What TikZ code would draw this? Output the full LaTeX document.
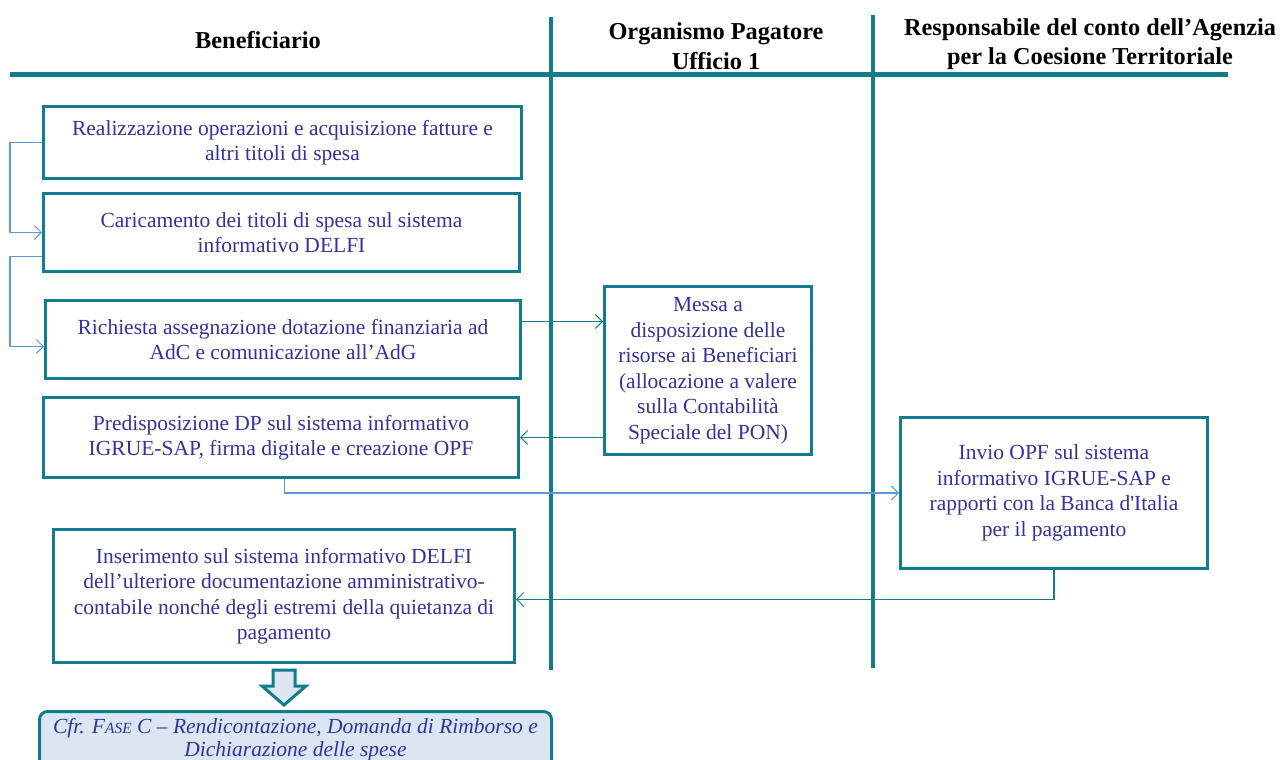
\documentclass[tikz,border=0pt]{standalone}
\usepackage{fontspec}
\setmainfont{Liberation Serif}
\usetikzlibrary{arrows.meta,calc}
\definecolor{teal}{RGB}{16,124,140}
\definecolor{lblue}{RGB}{91,155,213}
\definecolor{txtblue}{RGB}{51,51,153}
\definecolor{boxfill}{RGB}{220,230,242}
\begin{document}
\begin{tikzpicture}[x=1pt,y=-1pt,
  box/.style={draw=teal, line width=3pt, fill=white, text=txtblue, align=center, inner sep=0pt, anchor=north west,
    font=\fontsize{21.5}{25.5}\selectfont},
  head/.style={align=center, font=\fontsize{24.3}{29.5}\selectfont\bfseries, text=black},
  lane/.style={draw=teal, line width=4pt},
  conn/.style={draw=teal, line width=1.2pt, -{Straight Barb[length=7pt,width=14pt,line width=1pt]}},
  lconn/.style={draw=lblue, line width=1.2pt, -{Straight Barb[length=7pt,width=14pt,line width=1pt]}}]
\useasboundingbox[fill=white] (0,0) rectangle (1283,760);
% lanes
\draw[lane, line width=5pt] (10,75) -- (1228,75);
\draw[lane] (551,17) -- (551,670);
\draw[lane] (873,15) -- (873,668);
% headers
\node[head] (h1) at (258,40) {Beneficiario};
\node[head] (h2) at (716,46) {Organismo Pagatore\\Ufficio 1};
\node[head] (h3) at (1090,44) {Responsabile del conto dell’Agenzia\\per la Coesione Territoriale};
% boxes
\node[box, minimum width=478, minimum height=72] (b1) at (42,105) {Realizzazione operazioni e acquisizione fatture e\\altri titoli di spesa};
\node[box, minimum width=476, minimum height=78] (b2) at (42,192) {Caricamento dei titoli di spesa sul sistema\\informativo DELFI};
\node[box, minimum width=475, minimum height=78] (b3) at (44,299) {Richiesta assegnazione dotazione finanziaria ad\\AdC e comunicazione all’AdG};
\node[box, minimum width=475, minimum height=80] (b4) at (42,396) {Predisposizione DP sul sistema informativo\\IGRUE-SAP, firma digitale e creazione OPF};
\node[box, minimum width=207, minimum height=168] (b5) at (603,285) {Messa a\\disposizione delle\\risorse ai Beneficiari\\(allocazione a valere\\sulla Contabilità\\Speciale del PON)};
\node[box, minimum width=307, minimum height=151] (b6) at (899,416) {Invio OPF sul sistema\\informativo IGRUE-SAP e\\rapporti con la Banca d\textquotesingle Italia\\per il pagamento};
\node[box, minimum width=461, minimum height=133] (b7) at (52,528) {Inserimento sul sistema informativo DELFI\\dell’ulteriore documentazione amministrativo-\\contabile nonché degli estremi della quietanza di\\pagamento};
\node[box, fill=boxfill, rounded corners=8pt, minimum width=512, minimum height=56, font=\fontsize{21.5}{23}\selectfont\itshape] (b8) at (38,710) {Cfr. F{\fontsize{15.5}{15}\selectfont ASE} C – Rendicontazione, Domanda di Rimborso e\\Dichiarazione delle spese};
% block arrow
\draw[teal, line width=3pt, fill=boxfill, line join=miter] (273,670) -- (295,670) -- (295,686) -- (306,686) -- (284,705) -- (262,686) -- (273,686) -- cycle;
% connectors
\draw[lconn] (b1.west) -- ++(-32,0) |- (b2.west);
\draw[lconn] ([yshift=-24pt]b2.west) -- ++(-32,0) |- ([yshift=-7pt]b3.west);
\draw[conn] ([yshift=18pt]b3.east) -- ([yshift=18pt]b3.east -| b5.west);
\draw[conn] (b5.west |- b4.east) -- (b4.east);
\draw[lconn] ([xshift=3.5pt]b4.south) |- (b6.west);
\draw[conn] (b6.south) |- ([yshift=-3.5pt]b7.east);
\end{tikzpicture}
\end{document}
